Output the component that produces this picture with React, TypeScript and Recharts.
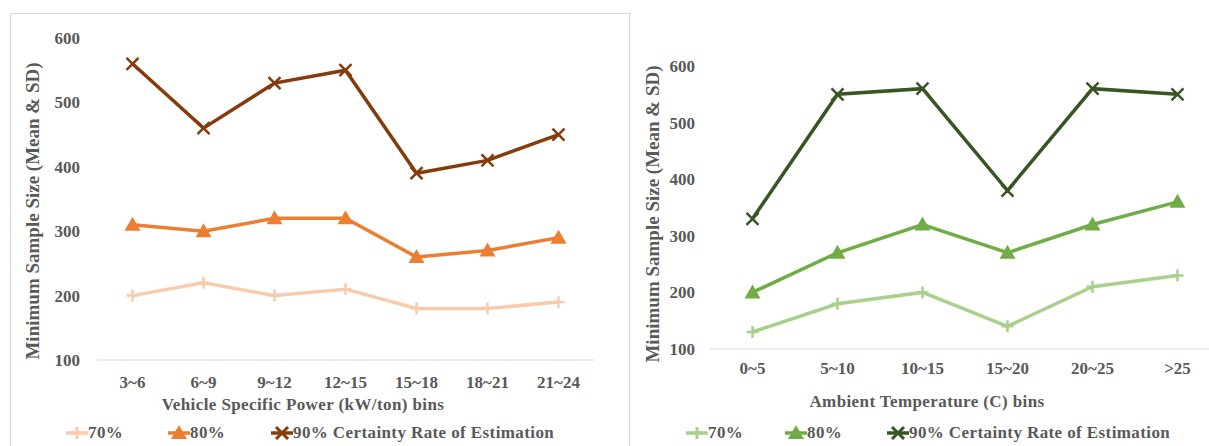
import React from 'react';
import { LineChart, Line, XAxis, YAxis, Legend } from 'recharts';

// vehicle specific power panel
const vspBins = ['3~6', '6~9', '9~12', '12~15', '15~18', '18~21', '21~24'];
const vsp70 = [200, 220, 200, 210, 180, 180, 190];
const vsp80 = [310, 300, 320, 320, 260, 270, 290];
const vsp90 = [560, 460, 530, 550, 390, 410, 450];

// ambient temperature panel
const tempBins = ['0~5', '5~10', '10~15', '15~20', '20~25', '>25'];
const temp70 = [130, 180, 200, 140, 210, 230];
const temp80 = [200, 270, 320, 270, 320, 360];
const temp90 = [330, 550, 560, 380, 560, 550];

const yTicks = [100, 200, 300, 400, 500, 600];
const seriesNames = ['70%', '80%', '90% Certainty Rate of Estimation'];
const yTitle = 'Minimum Sample Size (Mean & SD)';

const orange = ['#F8CBAD', '#ED7D31', '#843C0C'];
const green = ['#A9D18E', '#70AD47', '#375623'];

const FONT = '"Liberation Serif", "Times New Roman", serif';
const TEXT = '#595959';

const toRows = (bins: string[], a: number[], b: number[], c: number[]) =>
  bins.map((bin, i) => ({ bin, s70: a[i], s80: b[i], s90: c[i] }));

const plusPath = (x: number, y: number, r: number) => `M${x - r},${y}H${x + r}M${x},${y - r}V${y + r}`;
const triPath = (x: number, y: number, r: number) =>
  `M${x},${y - r}L${x + r},${y + r * 0.75}L${x - r},${y + r * 0.75}Z`;
const crossPath = (x: number, y: number, r: number) =>
  `M${x - r},${y - r}L${x + r},${y + r}M${x - r},${y + r}L${x + r},${y - r}`;

const PlusDot = (props: any) => {
  const { cx, cy, stroke, index } = props;
  if (cx == null || cy == null) return <g key={index} />;
  return <path key={index} d={plusPath(cx, cy, 6)} stroke={stroke} strokeWidth={2.5} fill="none" />;
};

const TriDot = (props: any) => {
  const { cx, cy, stroke, index } = props;
  if (cx == null || cy == null) return <g key={index} />;
  return <path key={index} d={triPath(cx, cy, 8)} fill={stroke} stroke="none" />;
};

const CrossDot = (props: any) => {
  const { cx, cy, stroke, index } = props;
  if (cx == null || cy == null) return <g key={index} />;
  return <path key={index} d={crossPath(cx, cy, 6)} stroke={stroke} strokeWidth={2.5} fill="none" />;
};

const legendIcon = (i: number, color: string) => {
  if (i === 0) return <path d={plusPath(11, 11, 6)} stroke={color} strokeWidth={3} fill="none" />;
  if (i === 1) return <path d={triPath(11, 11, 8)} fill={color} />;
  return <path d={crossPath(11, 11, 6)} stroke={color} strokeWidth={3} fill="none" />;
};

const makeLegend = (colors: string[], xs: number[], width: number) => () => (
  <div style={{ position: 'relative', width, height: 22 }}>
    {seriesNames.map((name, i) => (
      <div
        key={name}
        style={{ position: 'absolute', left: xs[i], top: 0, height: 22, display: 'flex', alignItems: 'center' }}
      >
        <svg width={22} height={22} style={{ display: 'block' }}>
          <line x1={0} y1={11} x2={22} y2={11} stroke={colors[i]} strokeWidth={3.5} />
          {legendIcon(i, colors[i])}
        </svg>
        <span
          style={{
            fontFamily: FONT,
            fontWeight: 'bold',
            fontSize: 17,
            letterSpacing: 0.4,
            color: TEXT,
            whiteSpace: 'nowrap',
          }}
        >
          {name}
        </span>
      </div>
    ))}
  </div>
);

const makeYTitle = (cx: number, cy: number) => () => (
  <text
    x={cx}
    y={cy}
    transform={`rotate(-90 ${cx} ${cy})`}
    textAnchor="middle"
    dominantBaseline="central"
    fontFamily={FONT}
    fontWeight="bold"
    fontSize={19}
    fill={TEXT}
  >
    {yTitle}
  </text>
);

const makeXTitle = (text: string, cx: number, y: number) => () => (
  <text
    x={cx}
    y={y}
    textAnchor="middle"
    fontFamily={FONT}
    fontWeight="bold"
    fontSize={17}
    letterSpacing={0.4}
    fill={TEXT}
  >
    {text}
  </text>
);

const tickStyle = { fontFamily: FONT, fontWeight: 'bold', fontSize: 17, fill: TEXT };

interface PanelProps {
  rows: { bin: string; s70: number; s80: number; s90: number }[];
  colors: string[];
  width: number;
  margin: { top: number; right: number; bottom: number; left: number };
  xAxisHeight: number;
  xTickMargin: number;
  yTickMargin: number;
  xTitle: string;
  xTitlePos: [number, number];
  yTitlePos: [number, number];
  legendXs: number[];
}

function Panel(p: PanelProps) {
  return (
    <LineChart width={p.width} height={446} data={p.rows} margin={p.margin}>
      <XAxis
        dataKey="bin"
        scale="band"
        height={p.xAxisHeight}
        tickLine={false}
        axisLine={{ stroke: '#D9D9D9', strokeWidth: 1 }}
        tick={tickStyle}
        tickMargin={p.xTickMargin}
        interval={0}
        label={{ content: makeXTitle(p.xTitle, p.xTitlePos[0], p.xTitlePos[1]) }}
      />
      <YAxis
        width={60}
        domain={[100, 600]}
        ticks={yTicks}
        axisLine={false}
        tickLine={false}
        tick={tickStyle}
        tickMargin={p.yTickMargin}
        label={{ content: makeYTitle(p.yTitlePos[0], p.yTitlePos[1]) }}
      />
      <Legend
        verticalAlign="bottom"
        height={22}
        wrapperStyle={{ left: 0, width: p.width }}
        content={makeLegend(p.colors, p.legendXs, p.width)}
      />
      <Line dataKey="s70" name={seriesNames[0]} stroke={p.colors[0]} strokeWidth={3.5} dot={PlusDot} activeDot={false} isAnimationActive={false} />
      <Line dataKey="s80" name={seriesNames[1]} stroke={p.colors[1]} strokeWidth={3.5} dot={TriDot} activeDot={false} isAnimationActive={false} />
      <Line dataKey="s90" name={seriesNames[2]} stroke={p.colors[2]} strokeWidth={3.5} dot={CrossDot} activeDot={false} isAnimationActive={false} />
    </LineChart>
  );
}

export default function App() {
  return (
    <div
      style={{
        position: 'absolute',
        left: 0,
        top: 0,
        width: 1209,
        height: 446,
        overflow: 'hidden',
        background: '#fff',
      }}
    >
      <div style={{ position: 'absolute', left: 10, top: 13, width: 620, height: 440, borderTop: '1px solid #D9D9D9', borderLeft: '1px solid #D9D9D9' }} />
      <div style={{ position: 'absolute', left: 629, top: 12, width: 1, height: 440, background: '#D9D9D9' }} />
      <div style={{ position: 'absolute', left: 0, top: 0 }}>
        <Panel
          rows={toRows(vspBins, vsp70, vsp80, vsp90)}
          colors={orange}
          width={620}
          margin={{ top: 38, right: 26, bottom: 2, left: 37 }}
          xAxisHeight={62}
          xTickMargin={10}
          yTickMargin={11}
          xTitle="Vehicle Specific Power (kW/ton) bins"
          xTitlePos={[303, 410]}
          yTitlePos={[32, 211]}
          legendXs={[66, 168, 271]}
        />
      </div>
      <div style={{ position: 'absolute', left: 620, top: 0 }}>
        <Panel
          rows={toRows(tempBins, temp70, temp80, temp90)}
          colors={green}
          width={600}
          margin={{ top: 66, right: 0, bottom: 2, left: 30 }}
          xAxisHeight={73}
          xTickMargin={7}
          yTickMargin={9}
          xTitle="Ambient Temperature (C) bins"
          xTitlePos={[307, 407]}
          yTitlePos={[32, 214]}
          legendXs={[66, 165, 267]}
        />
      </div>
    </div>
  );
}
